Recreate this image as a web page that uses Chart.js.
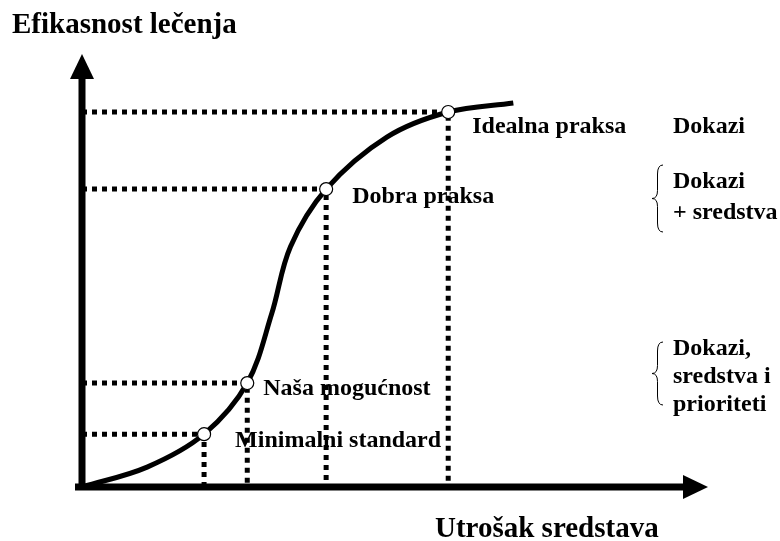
<!DOCTYPE html>
<html>
<head>
<meta charset="utf-8">
<script src="https://cdn.jsdelivr.net/npm/chart.js@4.4.0/dist/chart.umd.min.js"></script>
<style>
  html, body { margin: 0; padding: 0; background: #fff; }
  #wrap { width: 780px; height: 541px; position: relative; }
</style>
</head>
<body>
<div id="wrap"><canvas id="myChart"></canvas></div>
<script>
  "use strict";

  // S-kriva: utrosak sredstava (x) / efikasnost lecenja (y)
  const curveX = [0, 10.4, 19.5, 26.4, 30.3, 33.3, 39.0, 48.7, 58.5, 68.9];
  const curveY = [0, 4.6, 12.2, 24.0, 40.0, 55.5, 68.8, 80.8, 86.6, 88.7];

  // tacke na krivoj
  const pointNames = ['Minimalni standard', 'Naša mogućnost', 'Dobra praksa', 'Idealna praksa'];
  const pointCost = [19.5, 26.4, 39.0, 58.5];
  const pointEffect = [12.2, 24.0, 68.8, 86.6];

  // tekst desno
  const requirements = [['Dokazi'], ['Dokazi', '+ sredstva'], ['Dokazi,', 'sredstva i', 'prioriteti']];

  const yTitle = 'Efikasnost lečenja';
  const xTitle = 'Utrošak sredstava';

  const FONT = '"Liberation Serif", "Times New Roman", serif';

  const curveData = curveX.map((x, i) => ({ x: x, y: curveY[i] }));
  const pointData = pointCost.map((x, i) => ({ x: x, y: pointEffect[i] }));

  // isprekidane linije od ose do tacke i nazad na x osu
  const guideSets = pointCost.map((x, i) => ({
    label: 'guide ' + i,
    data: [{ x: 0, y: pointEffect[i] }, { x: x, y: pointEffect[i] }, { x: x, y: 0 }],
    borderColor: '#000',
    borderWidth: 5,
    borderDash: [5, 5],
    pointRadius: 0,
    showLine: true,
    tension: 0,
    fill: false,
    order: 3
  }));

  const labelOffsets = [[31, 13], [16, 12], [26, 14], [24, 21]];
  const reqBaselines = [[133], [188, 219], [355, 383, 411]];
  const braces = [null, [165, 232], [342, 405]];

  const drawBrace = (ctx, x, top, bottom) => {
    const mid = (top + bottom) / 2;
    const w = 11;
    ctx.beginPath();
    ctx.moveTo(x + w, top);
    ctx.quadraticCurveTo(x + w / 2, top, x + w / 2, top + 9);
    ctx.lineTo(x + w / 2, mid - 8);
    ctx.quadraticCurveTo(x + w / 2, mid, x, mid);
    ctx.quadraticCurveTo(x + w / 2, mid, x + w / 2, mid + 8);
    ctx.lineTo(x + w / 2, bottom - 9);
    ctx.quadraticCurveTo(x + w / 2, bottom, x + w, bottom);
    ctx.stroke();
  };

  const annotations = {
    id: 'annotations',
    afterDatasetsDraw(chart) {
      const ctx = chart.ctx;
      const xs = chart.scales.x;
      const ys = chart.scales.y;
      const x0 = xs.getPixelForValue(0);
      const y0 = ys.getPixelForValue(0);
      const xEnd = xs.getPixelForValue(100);
      const yEnd = ys.getPixelForValue(100);

      ctx.save();
      ctx.fillStyle = '#000';
      ctx.strokeStyle = '#000';

      // ose
      ctx.lineWidth = 7;
      ctx.beginPath();
      ctx.moveTo(x0, y0 + 3);
      ctx.lineTo(x0, yEnd + 20);
      ctx.moveTo(x0 - 7, y0);
      ctx.lineTo(xEnd - 20, y0);
      ctx.stroke();

      // strelice
      ctx.beginPath();
      ctx.moveTo(x0, yEnd);
      ctx.lineTo(x0 - 12, yEnd + 25);
      ctx.lineTo(x0 + 12, yEnd + 25);
      ctx.closePath();
      ctx.fill();
      ctx.beginPath();
      ctx.moveTo(xEnd, y0);
      ctx.lineTo(xEnd - 25, y0 - 12);
      ctx.lineTo(xEnd - 25, y0 + 12);
      ctx.closePath();
      ctx.fill();

      // nazivi osa
      ctx.font = 'bold 29px ' + FONT;
      ctx.textBaseline = 'alphabetic';
      ctx.textAlign = 'left';
      ctx.fillText(yTitle, 12, 33);
      ctx.fillText(xTitle, 435, 537);

      // nazivi tacaka
      ctx.font = 'bold 24px ' + FONT;
      pointNames.forEach((name, i) => {
        const px = xs.getPixelForValue(pointCost[i]);
        const py = ys.getPixelForValue(pointEffect[i]);
        ctx.fillText(name, px + labelOffsets[i][0], py + labelOffsets[i][1]);
      });

      // uslovi desno
      requirements.forEach((lines, i) => {
        lines.forEach((line, j) => {
          ctx.fillText(line, 673, reqBaselines[i][j]);
        });
      });

      ctx.lineWidth = 1;
      braces.forEach(b => {
        if (b) drawBrace(ctx, 652, b[0], b[1]);
      });

      ctx.restore();
    }
  };

  const config = {
    type: 'scatter',
    data: {
      datasets: [
        {
          label: 'Kriva',
          data: curveData,
          showLine: true,
          borderColor: '#000',
          borderWidth: 5,
          pointRadius: 0,
          tension: 0.35,
          fill: false,
          order: 2
        },
        {
          label: 'Tacke',
          data: pointData,
          showLine: false,
          pointRadius: 6.5,
          pointBackgroundColor: '#fff',
          pointBorderColor: '#000',
          pointBorderWidth: 1.2,
          order: 1
        }
      ].concat(guideSets)
    },
    options: {
      responsive: true,
      maintainAspectRatio: false,
      animation: false,
      layout: {
        padding: { left: 82, right: 72, top: 54, bottom: 54 }
      },
      scales: {
        x: { type: 'linear', min: 0, max: 100, display: false },
        y: { type: 'linear', min: 0, max: 100, display: false }
      },
      plugins: {
        legend: { display: false },
        tooltip: { enabled: false },
        title: { display: false }
      }
    },
    plugins: [annotations]
  };

  const myChart = new Chart(document.getElementById('myChart'), config);
</script>
</body>
</html>
